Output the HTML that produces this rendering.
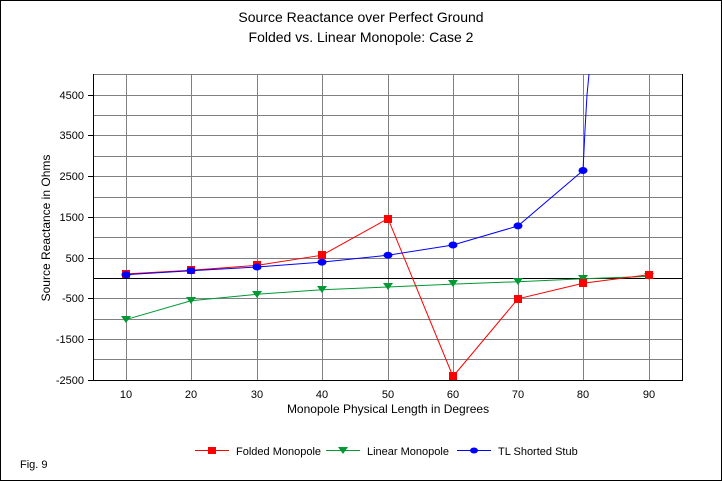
<!DOCTYPE html>
<html><head><style>body{margin:0;background:#fff}svg{display:block}text{font-family:"Liberation Sans",Arial,sans-serif}</style></head><body>
<svg width="722" height="481" viewBox="0 0 722 481" xmlns="http://www.w3.org/2000/svg">
<rect x="0.5" y="0.5" width="721" height="480" fill="#fff" stroke="#000"/>
<text x="361" y="22" font-size="14" text-anchor="middle">Source Reactance over Perfect Ground</text>
<text x="361" y="42" font-size="14" text-anchor="middle">Folded vs. Linear Monopole: Case 2</text>
<g stroke="#808080" stroke-width="1">
<line x1="93" y1="74.5" x2="682" y2="74.5"/><line x1="93" y1="95.5" x2="682" y2="95.5"/><line x1="93" y1="115.5" x2="682" y2="115.5"/><line x1="93" y1="135.5" x2="682" y2="135.5"/><line x1="93" y1="156.5" x2="682" y2="156.5"/><line x1="93" y1="176.5" x2="682" y2="176.5"/><line x1="93" y1="197.5" x2="682" y2="197.5"/><line x1="93" y1="217.5" x2="682" y2="217.5"/><line x1="93" y1="237.5" x2="682" y2="237.5"/><line x1="93" y1="258.5" x2="682" y2="258.5"/><line x1="93" y1="298.5" x2="682" y2="298.5"/><line x1="93" y1="319.5" x2="682" y2="319.5"/><line x1="93" y1="339.5" x2="682" y2="339.5"/><line x1="93" y1="359.5" x2="682" y2="359.5"/>
<line x1="126.5" y1="74" x2="126.5" y2="380"/><line x1="191.5" y1="74" x2="191.5" y2="380"/><line x1="257.5" y1="74" x2="257.5" y2="380"/><line x1="322.5" y1="74" x2="322.5" y2="380"/><line x1="388.5" y1="74" x2="388.5" y2="380"/><line x1="453.5" y1="74" x2="453.5" y2="380"/><line x1="518.5" y1="74" x2="518.5" y2="380"/><line x1="583.5" y1="74" x2="583.5" y2="380"/><line x1="649.5" y1="74" x2="649.5" y2="380"/>
</g>
<g stroke="#000">
<line x1="93.5" y1="74" x2="93.5" y2="381"/><line x1="682.5" y1="74" x2="682.5" y2="381"/><line x1="93" y1="380.5" x2="683" y2="380.5"/><line x1="93" y1="278.5" x2="682" y2="278.5"/>
<line x1="88" y1="95.5" x2="93" y2="95.5"/><line x1="88" y1="135.5" x2="93" y2="135.5"/><line x1="88" y1="176.5" x2="93" y2="176.5"/><line x1="88" y1="217.5" x2="93" y2="217.5"/><line x1="88" y1="258.5" x2="93" y2="258.5"/><line x1="88" y1="298.5" x2="93" y2="298.5"/><line x1="88" y1="339.5" x2="93" y2="339.5"/><line x1="88" y1="380.5" x2="93" y2="380.5"/>
</g>
<g font-size="11" text-anchor="end">
<text x="84" y="99">4500</text><text x="84" y="139">3500</text><text x="84" y="180">2500</text><text x="84" y="221">1500</text><text x="84" y="262">500</text><text x="84" y="302">-500</text><text x="84" y="343">-1500</text><text x="84" y="384">-2500</text>
</g>
<g font-size="11" text-anchor="middle">
<text x="126" y="398">10</text><text x="191" y="398">20</text><text x="257" y="398">30</text><text x="322" y="398">40</text><text x="388" y="398">50</text><text x="453" y="398">60</text><text x="518" y="398">70</text><text x="583" y="398">80</text><text x="649" y="398">90</text>
</g>
<text x="388" y="413" font-size="12" text-anchor="middle">Monopole Physical Length in Degrees</text>
<text transform="translate(50,228) rotate(-90)" font-size="12" text-anchor="middle">Source Reactance in Ohms</text>
<polyline fill="none" stroke="#009933" points="126,319.5 191,300.8 257,294.3 322,289.8 388,287 453,284.1 518,281.7 583,278.8 649,276.4"/>
<g fill="#009933">
<polygon points="121,316 131,316 126,323"/><polygon points="186,297 196,297 191,304"/><polygon points="252,291 262,291 257,298"/><polygon points="317,286 327,286 322,293"/><polygon points="383,283 393,283 388,290"/><polygon points="448,280 458,280 453,287"/><polygon points="513,278 523,278 518,285"/><polygon points="578,275 588,275 583,282"/><polygon points="644,273 654,273 649,280"/>
</g>
<polyline fill="none" stroke="#ff0000" points="126,273.9 191,270.3 257,265.4 322,255.2 388,218.6 453,376.5 518,298.8 583,283.3 649,274.7"/>
<g fill="#ff0000">
<rect x="122" y="270" width="8" height="8"/><rect x="187" y="266" width="8" height="8"/><rect x="253" y="261" width="8" height="8"/><rect x="318" y="251" width="8" height="8"/><rect x="384" y="215" width="8" height="8"/><rect x="449" y="372" width="8" height="8"/><rect x="514" y="295" width="8" height="8"/><rect x="579" y="279" width="8" height="8"/><rect x="645" y="271" width="8" height="8"/>
</g>
<polyline fill="none" stroke="#0000ff" points="126,274.7 191,270.7 257,267 322,262.1 388,255.2 453,245 518,225.9 583,170.5 585,130 587,95 589,74"/>
<g fill="#0000ff">
<ellipse cx="126" cy="274.7" rx="4.5" ry="3.5"/><ellipse cx="191" cy="270.7" rx="4.5" ry="3.5"/><ellipse cx="257" cy="267" rx="4.5" ry="3.5"/><ellipse cx="322" cy="262.1" rx="4.5" ry="3.5"/><ellipse cx="388" cy="255.2" rx="4.5" ry="3.5"/><ellipse cx="453" cy="245" rx="4.5" ry="3.5"/><ellipse cx="518" cy="225.9" rx="4.5" ry="3.5"/><ellipse cx="583" cy="170.5" rx="4.5" ry="3.5"/>
</g>
<line x1="195" y1="450.5" x2="229" y2="450.5" stroke="#ff0000"/><rect x="208" y="447" width="8" height="7" fill="#ff0000"/>
<text x="236" y="455" font-size="11">Folded Monopole</text>
<line x1="326" y1="450.5" x2="360" y2="450.5" stroke="#009933"/><polygon points="338,447 348,447 343,454" fill="#009933"/>
<text x="367" y="455" font-size="11">Linear Monopole</text>
<line x1="457" y1="450.5" x2="491" y2="450.5" stroke="#0000ff"/><ellipse cx="474" cy="450.5" rx="4" ry="3" fill="#0000ff"/>
<text x="498" y="455" font-size="11">TL Shorted Stub</text>
<text x="20" y="468" font-size="11">Fig. 9</text>
</svg>
</body></html>
